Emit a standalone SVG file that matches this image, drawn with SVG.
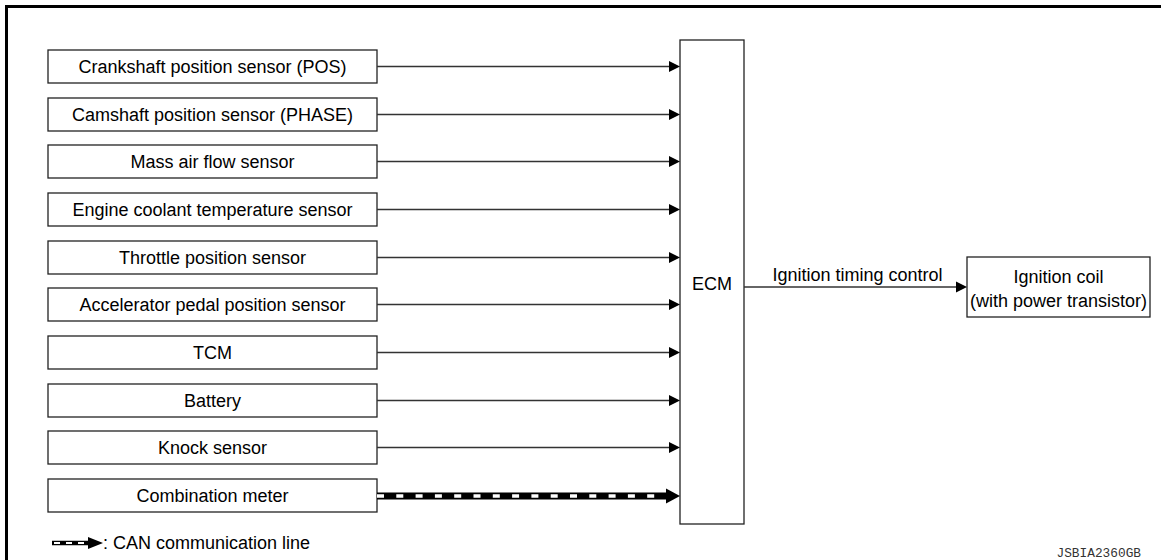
<svg xmlns="http://www.w3.org/2000/svg" width="1161" height="560" viewBox="0 0 1161 560">
<style>
.box{fill:#fff;stroke:#222;stroke-width:1.3}
.t{font-family:"Liberation Sans",Arial,sans-serif;font-size:18px;fill:#000;text-anchor:middle}
.ln{stroke:#333;stroke-width:1.3;fill:none}
.ah{fill:#000}
</style>
<rect width="1161" height="560" fill="#fff"/>
<path d="M6.5,560 V6.5 H1161" fill="none" stroke="#000" stroke-width="3"/>
<g id="n1"><rect class="box" x="48" y="50" width="329" height="33"/><text class="t" x="212.5" y="72.5">Crankshaft position sensor (POS)</text></g>
<g id="n2"><rect class="box" x="48" y="98" width="329" height="33"/><text class="t" x="212.5" y="120.5">Camshaft position sensor (PHASE)</text></g>
<g id="n3"><rect class="box" x="48" y="145" width="329" height="33"/><text class="t" x="212.5" y="167.5">Mass air flow sensor</text></g>
<g id="n4"><rect class="box" x="48" y="193" width="329" height="33"/><text class="t" x="212.5" y="215.5">Engine coolant temperature sensor</text></g>
<g id="n5"><rect class="box" x="48" y="241" width="329" height="33"/><text class="t" x="212.5" y="263.5">Throttle position sensor</text></g>
<g id="n6"><rect class="box" x="48" y="288" width="329" height="33"/><text class="t" x="212.5" y="310.5">Accelerator pedal position sensor</text></g>
<g id="n7"><rect class="box" x="48" y="336" width="329" height="33"/><text class="t" x="212.5" y="358.5">TCM</text></g>
<g id="n8"><rect class="box" x="48" y="384" width="329" height="33"/><text class="t" x="212.5" y="406.5">Battery</text></g>
<g id="n9"><rect class="box" x="48" y="431" width="329" height="33"/><text class="t" x="212.5" y="453.5">Knock sensor</text></g>
<g id="n10"><rect class="box" x="48" y="479" width="329" height="33"/><text class="t" x="212.5" y="501.5">Combination meter</text></g>
<g id="ecm"><rect class="box" x="680" y="40" width="64" height="484"/><text class="t" x="712" y="289.5">ECM</text></g>
<g id="coil"><rect class="box" x="967" y="257" width="183" height="60"/><text class="t" x="1058.5" y="283">Ignition coil</text><text class="t" x="1058.5" y="307">(with power transistor)</text></g>
<g id="connectors">
<path class="ln" d="M377,66.5H670M377,114.5H670M377,161.5H670M377,209.5H670M377,257.5H670M377,304.5H670M377,352.5H670M377,400.5H670M377,447.5H670"/>
<g class="ah">
<polygon points="669,61 680,66.5 669,72"/>
<polygon points="669,109 680,114.5 669,120"/>
<polygon points="669,156 680,161.5 669,167"/>
<polygon points="669,204 680,209.5 669,215"/>
<polygon points="669,252 680,257.5 669,263"/>
<polygon points="669,299 680,304.5 669,310"/>
<polygon points="669,347 680,352.5 669,358"/>
<polygon points="669,395 680,400.5 669,406"/>
<polygon points="669,442 680,447.5 669,453"/>
</g>
<line x1="377" y1="496" x2="668" y2="496" stroke="#000" stroke-width="7"/>
<line x1="377" y1="496" x2="666" y2="496" stroke="#fff" stroke-width="3.5" stroke-dasharray="7 12.3"/>
<polygon class="ah" points="666,488.5 680,496 666,503.5"/>
<path class="ln" d="M744,287H957"/>
<polygon class="ah" points="956,281.5 967,287 956,292.5"/>
<text class="t" x="857.5" y="281">Ignition timing control</text>
</g>
<g id="legend">
<line x1="52" y1="543" x2="90" y2="543" stroke="#000" stroke-width="4.5"/>
<line x1="54" y1="543" x2="88" y2="543" stroke="#fff" stroke-width="1.8" stroke-dasharray="6 6"/>
<polygon points="88,537 103,543 88,549" fill="#000"/>
<text x="103" y="549" font-family="Liberation Sans,Arial,sans-serif" font-size="18">: CAN communication line</text>
</g>
<text x="1141" y="556.5" font-family="Liberation Mono,Courier New,monospace" font-size="12.8" fill="#333" text-anchor="end">JSBIA2360GB</text>
</svg>
